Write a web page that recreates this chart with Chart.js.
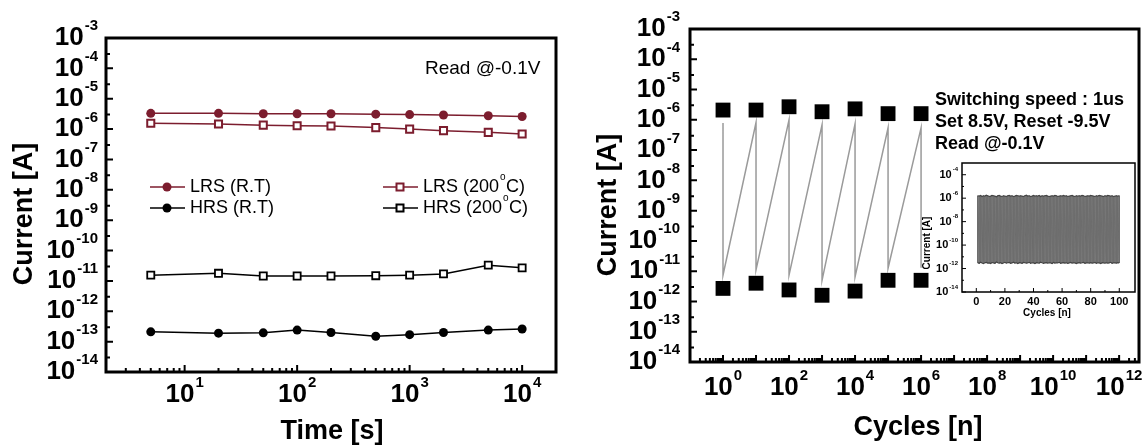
<!DOCTYPE html>
<html>
<head>
<meta charset="utf-8">
<script src="https://cdn.jsdelivr.net/npm/chart.js@4.4.0/dist/chart.umd.min.js"></script>
<style>
  body { margin: 0; background: #fff; width: 1146px; height: 446px; overflow: hidden; position: relative; }
  canvas { position: absolute; }
</style>
</head>
<body>
<canvas id="retention" width="573" height="446" style="left:0;top:0"></canvas>
<canvas id="endurance" width="573" height="446" style="left:573px;top:0"></canvas>
<canvas id="inset" width="246" height="170" style="left:900px;top:150px"></canvas>
<script>
// retention (left)
const retentionTime = [5, 20, 50, 100, 200, 500, 1000, 2000, 5000, 10000];
const lrsRT  = [3.3e-6, 3.3e-6, 3.2e-6, 3.2e-6, 3.2e-6, 3.1e-6, 3.0e-6, 2.9e-6, 2.75e-6, 2.6e-6];
const lrs200 = [1.55e-6, 1.48e-6, 1.35e-6, 1.29e-6, 1.26e-6, 1.12e-6, 1.0e-6, 0.89e-6, 0.78e-6, 0.69e-6];
const hrsRT  = [2.1e-13, 1.9e-13, 1.95e-13, 2.4e-13, 2.0e-13, 1.5e-13, 1.7e-13, 2.0e-13, 2.4e-13, 2.6e-13];
const hrs200 = [1.55e-11, 1.78e-11, 1.45e-11, 1.45e-11, 1.45e-11, 1.48e-11, 1.55e-11, 1.7e-11, 3.3e-11, 2.7e-11];

// endurance (right)
const cycles       = [1, 10, 100, 1000, 10000, 100000, 1000000];
const lrsCycle     = [2.1e-6, 2.1e-6, 2.7e-6, 1.85e-6, 2.3e-6, 1.6e-6, 1.6e-6];
const hrsCycle     = [2.7e-12, 4.0e-12, 2.4e-12, 1.6e-12, 2.2e-12, 5.0e-12, 5.0e-12];
const switchTop    = [7.9e-7, 8.1e-7, 9.9e-7, 6.8e-7, 7.3e-7, 5.4e-7, 5.4e-7];
const switchBottom = [7.4e-12, 1.1e-11, 7.4e-12, 5.0e-12, 6.5e-12, 1.25e-11, 1.3e-11];

// inset: 100 cycles
const insetLrs = [
  1.6e-6, 1.5e-6, 1.7e-6, 1.4e-6, 1.6e-6, 1.5e-6, 1.8e-6, 1.6e-6, 1.4e-6, 1.5e-6,
  1.7e-6, 1.6e-6, 1.5e-6, 1.3e-6, 1.6e-6, 1.7e-6, 1.5e-6, 1.4e-6, 1.6e-6, 1.5e-6,
  1.4e-6, 1.6e-6, 1.7e-6, 1.5e-6, 1.6e-6, 1.4e-6, 1.5e-6, 1.7e-6, 1.6e-6, 1.5e-6,
  1.6e-6, 1.5e-6, 1.4e-6, 1.6e-6, 1.8e-6, 1.5e-6, 1.6e-6, 1.4e-6, 1.5e-6, 1.7e-6,
  1.5e-6, 1.6e-6, 1.5e-6, 1.7e-6, 1.4e-6, 1.6e-6, 1.5e-6, 1.6e-6, 1.7e-6, 1.5e-6,
  1.4e-6, 1.5e-6, 1.6e-6, 1.5e-6, 1.7e-6, 1.6e-6, 1.4e-6, 1.5e-6, 1.6e-6, 1.5e-6,
  1.7e-6, 1.5e-6, 1.6e-6, 1.4e-6, 1.5e-6, 1.6e-6, 1.7e-6, 1.5e-6, 1.4e-6, 1.6e-6,
  1.5e-6, 1.6e-6, 1.5e-6, 1.7e-6, 1.6e-6, 1.4e-6, 1.5e-6, 1.6e-6, 1.5e-6, 1.7e-6,
  1.6e-6, 1.5e-6, 1.4e-6, 1.6e-6, 1.5e-6, 1.7e-6, 1.6e-6, 1.5e-6, 1.4e-6, 1.6e-6,
  1.5e-6, 1.7e-6, 1.6e-6, 1.5e-6, 1.6e-6, 1.4e-6, 1.5e-6, 1.6e-6, 1.5e-6, 1.6e-6
];
const insetHrs = [
  3.2e-12, 2.8e-12, 3.5e-12, 3.0e-12, 2.6e-12, 3.1e-12, 3.4e-12, 2.9e-12, 3.0e-12, 2.7e-12,
  3.3e-12, 3.0e-12, 2.8e-12, 3.6e-12, 3.1e-12, 2.9e-12, 3.2e-12, 2.7e-12, 3.0e-12, 3.4e-12,
  2.9e-12, 3.1e-12, 3.3e-12, 2.8e-12, 3.0e-12, 3.5e-12, 2.9e-12, 3.1e-12, 2.7e-12, 3.2e-12,
  3.0e-12, 2.8e-12, 3.3e-12, 3.1e-12, 2.9e-12, 3.0e-12, 3.4e-12, 2.8e-12, 3.1e-12, 3.0e-12,
  2.7e-12, 3.2e-12, 3.0e-12, 2.9e-12, 3.5e-12, 3.1e-12, 2.8e-12, 3.0e-12, 3.2e-12, 2.9e-12,
  3.1e-12, 3.0e-12, 2.7e-12, 3.3e-12, 2.9e-12, 3.1e-12, 3.0e-12, 3.4e-12, 2.8e-12, 3.0e-12,
  3.2e-12, 2.9e-12, 3.1e-12, 2.8e-12, 3.0e-12, 3.3e-12, 2.9e-12, 3.1e-12, 3.0e-12, 2.7e-12,
  3.0e-12, 3.2e-12, 2.9e-12, 3.1e-12, 3.4e-12, 2.8e-12, 3.0e-12, 3.1e-12, 2.9e-12, 3.2e-12,
  2.9e-12, 3.0e-12, 3.3e-12, 2.8e-12, 3.1e-12, 3.0e-12, 2.7e-12, 3.2e-12, 3.0e-12, 2.9e-12,
  3.1e-12, 2.9e-12, 3.0e-12, 3.4e-12, 2.8e-12, 3.1e-12, 3.0e-12, 2.9e-12, 3.2e-12, 3.0e-12
];

// tick labels
const currentExponents = [-3, -4, -5, -6, -7, -8, -9, -10, -11, -12, -13, -14];
const timeExponents = [1, 2, 3, 4];
const cycleExponents = [0, 2, 4, 6, 8, 10, 12];
const insetCurrentExponents = [-4, -6, -8, -10, -12, -14];
const insetCycleTicks = [0, 20, 40, 60, 80, 100];

const FONT = '"Liberation Sans", Arial, sans-serif';
const RED = '#7c1d2e';

function pts(xs, ys) { return xs.map((x, i) => ({ x: x, y: ys[i] })); }

function powerLabel(ctx, exp, x, y, align, size) {
  const sup = Math.round(size * 0.58);
  ctx.font = 'bold ' + size + 'px ' + FONT;
  const w1 = ctx.measureText('10').width;
  ctx.font = 'bold ' + sup + 'px ' + FONT;
  const e = String(exp);
  const w2 = ctx.measureText(e).width;
  const total = w1 + w2 + 1;
  const left = align === 'right' ? x - total : x - total / 2;
  ctx.textAlign = 'left';
  ctx.textBaseline = 'middle';
  ctx.font = 'bold ' + size + 'px ' + FONT;
  ctx.fillText('10', left, y);
  ctx.font = 'bold ' + sup + 'px ' + FONT;
  ctx.fillText(e, left + w1 + 1, y - size * 0.45);
}

function logMinors(lo, hi, steps) {
  const out = [];
  for (let e = lo; e <= hi; e++) steps.forEach(m => out.push(m * Math.pow(10, e)));
  return out;
}

// frame, inward ticks, labels and texts
function frame(o) {
  return {
    id: 'frame',
    afterDatasetsDraw(chart) {
      const ctx = chart.ctx, a = chart.chartArea;
      const xs = chart.scales.x, ys = chart.scales.y;
      ctx.save();
      ctx.strokeStyle = '#000';
      ctx.fillStyle = '#000';
      ctx.lineWidth = o.tickWidth;
      ctx.beginPath();
      const inY = v => v >= ys.min && v <= ys.max;
      const inX = v => v >= xs.min && v <= xs.max;
      o.yMajor.filter(inY).forEach(v => { const p = ys.getPixelForValue(v); ctx.moveTo(a.left, p); ctx.lineTo(a.left + o.major, p); });
      o.yMinor.filter(inY).forEach(v => { const p = ys.getPixelForValue(v); ctx.moveTo(a.left, p); ctx.lineTo(a.left + o.minor, p); });
      o.xMajor.filter(inX).forEach(v => { const p = xs.getPixelForValue(v); ctx.moveTo(p, a.bottom); ctx.lineTo(p, a.bottom - o.major); });
      o.xMinor.filter(inX).forEach(v => { const p = xs.getPixelForValue(v); ctx.moveTo(p, a.bottom); ctx.lineTo(p, a.bottom - o.minor); });
      ctx.stroke();
      ctx.lineWidth = o.frame;
      ctx.strokeRect(a.left, a.top, a.right - a.left, a.bottom - a.top);

      o.yLabels.forEach(e => powerLabel(ctx, e, a.left - o.yGap, ys.getPixelForValue(Math.pow(10, e)), 'right', o.labelSize));
      if (o.xPower) {
        o.xLabels.forEach(e => powerLabel(ctx, e, xs.getPixelForValue(Math.pow(10, e)), a.bottom + o.xGap, 'center', o.labelSize));
      } else {
        ctx.font = 'bold ' + o.labelSize + 'px ' + FONT;
        ctx.textAlign = 'center';
        ctx.textBaseline = 'middle';
        o.xLabels.forEach(v => ctx.fillText(String(v), xs.getPixelForValue(v), a.bottom + o.xGap));
      }

      ctx.font = 'bold ' + o.titleSize + 'px ' + FONT;
      ctx.textAlign = 'center';
      ctx.textBaseline = 'middle';
      ctx.fillText(o.xTitle, o.xTitleAt[0], o.xTitleAt[1]);
      ctx.save();
      ctx.translate(o.yTitleAt[0], o.yTitleAt[1]);
      ctx.rotate(-Math.PI / 2);
      ctx.fillText(o.yTitle, 0, 0);
      ctx.restore();

      if (o.extra) o.extra(ctx, chart);
      ctx.restore();
    }
  };
}

function sizing(top, right, yWidth, xHeight) {
  return {
    layout: { padding: { top: top, right: right, left: 0, bottom: 0 }, autoPadding: false },
    fit: {
      x: s => { s.height = xHeight; },
      y: s => { s.width = yWidth; }
    }
  };
}

function baseOptions(sz, x, y) {
  const hidden = { grid: { display: false }, border: { display: false }, ticks: { display: false }, title: { display: false } };
  return {
    responsive: false,
    animation: false,
    layout: sz.layout,
    plugins: { legend: { display: false }, tooltip: { enabled: false } },
    scales: {
      x: Object.assign({}, hidden, x, { afterFit: sz.fit.x }),
      y: Object.assign({}, hidden, y, { afterFit: sz.fit.y })
    }
  };
}

function legendRow(ctx, x0, y, color, style, label, degree) {
  ctx.strokeStyle = color;
  ctx.lineWidth = 1.5;
  ctx.beginPath();
  ctx.moveTo(x0, y);
  ctx.lineTo(x0 + 35, y);
  ctx.stroke();
  const cx = x0 + 17;
  if (style === 'circle') {
    ctx.fillStyle = color;
    ctx.beginPath();
    ctx.arc(cx, y, 4.5, 0, Math.PI * 2);
    ctx.fill();
  } else {
    ctx.fillStyle = '#fff';
    ctx.lineWidth = 2;
    ctx.fillRect(cx - 3.5, y - 3.5, 7, 7);
    ctx.strokeRect(cx - 3.5, y - 3.5, 7, 7);
  }
  ctx.fillStyle = '#000';
  ctx.textAlign = 'left';
  ctx.textBaseline = 'middle';
  ctx.font = '18px ' + FONT;
  if (!degree) {
    ctx.fillText(label, x0 + 40, y);
  } else {
    const w = ctx.measureText(label).width;
    ctx.fillText(label, x0 + 40, y);
    ctx.font = '10px ' + FONT;
    ctx.fillText('o', x0 + 41 + w, y - 10);
    ctx.font = '18px ' + FONT;
    ctx.fillText('C)', x0 + 47 + w, y);
  }
}

// left panel
const szLeft = sizing(38, 17, 106, 74);
new Chart(document.getElementById('retention'), {
  type: 'scatter',
  data: {
    datasets: [
      { data: pts(retentionTime, lrsRT), showLine: true, borderColor: RED, backgroundColor: RED, borderWidth: 1.5,
        pointStyle: 'circle', pointRadius: 4.5, pointBorderWidth: 0 },
      { data: pts(retentionTime, lrs200), showLine: true, borderColor: RED, backgroundColor: '#fff', borderWidth: 1.5,
        pointStyle: 'rect', pointRadius: 5, pointBorderWidth: 2 },
      { data: pts(retentionTime, hrsRT), showLine: true, borderColor: '#000', backgroundColor: '#000', borderWidth: 1.5,
        pointStyle: 'circle', pointRadius: 4.5, pointBorderWidth: 0 },
      { data: pts(retentionTime, hrs200), showLine: true, borderColor: '#000', backgroundColor: '#fff', borderWidth: 1.5,
        pointStyle: 'rect', pointRadius: 5, pointBorderWidth: 1.8 }
    ]
  },
  options: baseOptions(szLeft,
    { type: 'logarithmic', min: 2, max: 20000 },
    { type: 'logarithmic', min: 1e-14, max: 1e-3 }),
  plugins: [frame({
    tickWidth: 2, major: 7, minor: 4, frame: 3, labelSize: 26, yGap: 8, xGap: 23, xPower: true,
    yMajor: currentExponents.map(e => Math.pow(10, e)),
    yMinor: logMinors(-14, -4, [3]),
    xMajor: timeExponents.map(e => Math.pow(10, e)),
    xMinor: logMinors(0, 4, [2, 3, 4, 5, 6, 7, 8, 9]),
    yLabels: currentExponents, xLabels: timeExponents,
    titleSize: 27, xTitle: 'Time [s]', xTitleAt: [332, 432], yTitle: 'Current [A]', yTitleAt: [25, 214],
    extra: ctx => {
      ctx.fillStyle = '#000';
      ctx.font = '19px ' + FONT;
      ctx.textAlign = 'left';
      ctx.textBaseline = 'middle';
      ctx.fillText('Read @-0.1V', 425, 69);
      legendRow(ctx, 150, 187, RED, 'circle', 'LRS (R.T)');
      legendRow(ctx, 150, 208, '#000', 'circle', 'HRS (R.T)');
      legendRow(ctx, 383, 187, RED, 'rect', 'LRS (200', true);
      legendRow(ctx, 383, 208, '#000', 'rect', 'HRS (200', true);
    }
  })]
});

// right panel
const szRight = sizing(29, 7, 117, 84);
new Chart(document.getElementById('endurance'), {
  type: 'scatter',
  data: {
    datasets: [
      { data: pts(cycles, lrsCycle), backgroundColor: '#000', borderWidth: 0, pointStyle: 'rect', pointRadius: 10.5 },
      { data: pts(cycles, hrsCycle), backgroundColor: '#000', borderWidth: 0, pointStyle: 'rect', pointRadius: 10.5 },
      { data: cycles.flatMap((c, i) => [{ x: c, y: switchTop[i] }, { x: c, y: switchBottom[i] }]),
        showLine: true, borderColor: '#9a9a9a', borderWidth: 1.5, pointRadius: 0 }
    ]
  },
  options: baseOptions(szRight,
    { type: 'logarithmic', min: 0.1, max: 4e12 },
    { type: 'logarithmic', min: 1e-14, max: 1e-3 }),
  plugins: [frame({
    tickWidth: 2, major: 7, minor: 4, frame: 3, labelSize: 26, yGap: 10, xGap: 26, xPower: true,
    yMajor: currentExponents.map(e => Math.pow(10, e)),
    yMinor: logMinors(-14, -4, [3]),
    xMajor: logMinors(-1, 12, [1]),
    xMinor: logMinors(-1, 12, [2, 3, 4, 5, 6, 7, 8, 9]),
    yLabels: currentExponents, xLabels: cycleExponents,
    titleSize: 27, xTitle: 'Cycles [n]', xTitleAt: [918 - 573, 428], yTitle: 'Current [A]', yTitleAt: [609 - 573, 205],
    extra: ctx => {
      ctx.fillStyle = '#000';
      ctx.font = 'bold 18px ' + FONT;
      ctx.textAlign = 'left';
      ctx.textBaseline = 'middle';
      ctx.fillText('Switching speed : 1us', 935 - 573, 100);
      ctx.fillText('Set 8.5V, Reset -9.5V', 935 - 573, 122);
      ctx.fillText('Read @-0.1V', 935 - 573, 144);
    }
  })]
});

// inset
const szInset = sizing(13, 11, 62, 28);
new Chart(document.getElementById('inset'), {
  type: 'scatter',
  data: {
    datasets: [
      { data: insetLrs.map((v, i) => ({ x: i + 1, y: v })), showLine: true, borderColor: '#444', borderWidth: 1.2, pointRadius: 0 },
      { data: insetHrs.map((v, i) => ({ x: i + 1, y: v })), showLine: true, borderColor: '#444', borderWidth: 1.2, pointRadius: 0 },
      { data: insetLrs.flatMap((v, i) => [{ x: i + 1, y: v }, { x: i + 1, y: insetHrs[i] }]),
        showLine: true, borderColor: '#6e6e6e', borderWidth: 1, pointRadius: 0 }
    ]
  },
  options: baseOptions(szInset,
    { type: 'linear', min: -10, max: 111 },
    { type: 'logarithmic', min: 1e-14, max: 1e-3 }),
  plugins: [frame({
    tickWidth: 1, major: 4, minor: 2, frame: 1.5, labelSize: 11, yGap: 4, xGap: 10, xPower: false,
    yMajor: insetCurrentExponents.map(e => Math.pow(10, e)),
    yMinor: logMinors(-14, -4, [1]).filter((v, i) => i % 2 === 1),
    xMajor: insetCycleTicks,
    xMinor: [10, 30, 50, 70, 90],
    yLabels: insetCurrentExponents, xLabels: insetCycleTicks,
    titleSize: 10, xTitle: 'Cycles [n]', xTitleAt: [147, 163], yTitle: 'Current [A]', yTitleAt: [27, 93]
  })]
});
</script>
</body>
</html>
